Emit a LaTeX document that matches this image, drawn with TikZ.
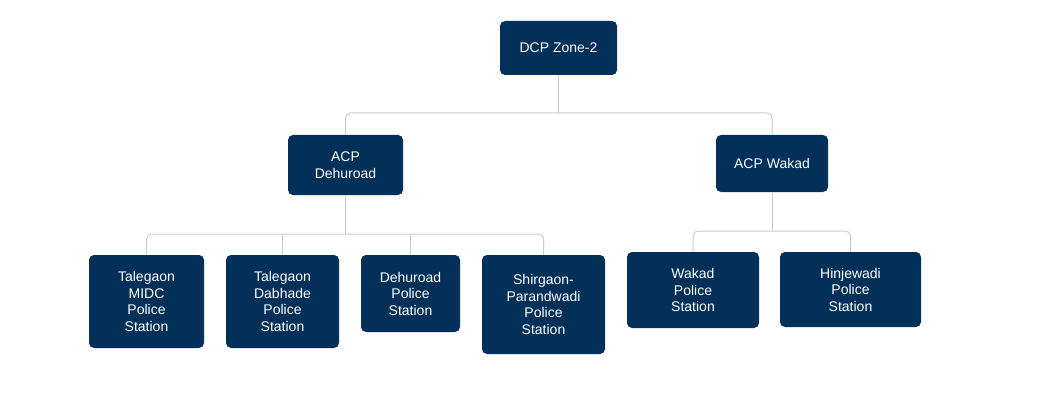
\documentclass[tikz,border=0pt]{standalone}
\usepackage{fontspec}
\setmainfont{Liberation Sans}
\definecolor{boxfill}{RGB}{3,48,89}
\definecolor{linegray}{RGB}{204,204,204}
\begin{document}
\begin{tikzpicture}[x=1pt,y=-1pt,
  box/.style={draw=none,fill=boxfill,rounded corners=5pt,text=white,align=center,
    font=\fontsize{14}{16.5}\selectfont,inner sep=0pt},
  conn/.style={draw=linegray,line width=1pt,rounded corners=5pt}]
\useasboundingbox (0,0) rectangle (1055,409);
\node[box,minimum width=117pt,minimum height=54pt] (dcp) at (558.5,48) {DCP Zone-2};
\node[box,minimum width=115pt,minimum height=60pt] (acpd) at (345.5,165) {ACP\\Dehuroad};
\node[box,minimum width=112pt,minimum height=57pt] (acpw) at (772,163.5) {ACP Wakad};
\node[box,minimum width=115pt,minimum height=93pt] (tm) at (146.5,301.5) {Talegaon\\MIDC\\Police\\Station};
\node[box,minimum width=113pt,minimum height=93pt] (td) at (282.5,301.5) {Talegaon\\Dabhade\\Police\\Station};
\node[box,minimum width=99pt,minimum height=77pt] (dp) at (410.5,293.5) {Dehuroad\\Police\\Station};
\node[box,minimum width=123pt,minimum height=99pt] (sp) at (543.5,304.5) {Shirgaon-\\Parandwadi\\Police\\Station};
\node[box,minimum width=132pt,minimum height=76pt] (wp) at (693,290) {Wakad\\Police\\Station};
\node[box,minimum width=141pt,minimum height=75pt] (hp) at (850.5,289.5) {Hinjewadi\\Police\\Station};
% level 1 to 2
\coordinate (b1) at (dcp.south |- 0,113);
\draw[conn] (dcp.south) -- (b1);
\draw[conn] (acpd.north) -- (acpd.north |- b1) -- (acpw.north |- b1) -- (acpw.north);
% Dehuroad children
\coordinate (b2) at (acpd.south |- 0,234);
\draw[conn] (acpd.south) -- (b2);
\draw[conn] (tm.north) -- (tm.north |- b2) -- (sp.north |- b2) -- (sp.north);
\draw[conn] (td.north |- b2) -- (td.north);
\draw[conn] (dp.north |- b2) -- (dp.north);
% Wakad children
\coordinate (b3) at (acpw.south |- 0,231);
\draw[conn] (acpw.south) -- (b3);
\draw[conn] (wp.north) -- (wp.north |- b3) -- (hp.north |- b3) -- (hp.north);
\end{tikzpicture}
\end{document}
